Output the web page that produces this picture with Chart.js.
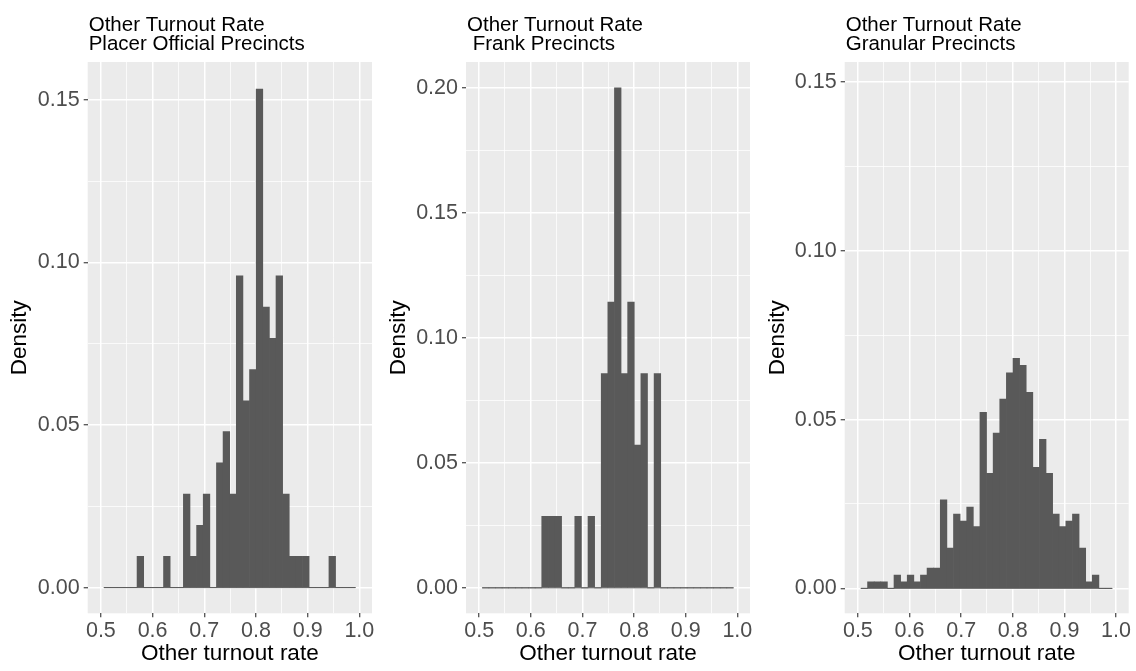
<!DOCTYPE html>
<html><head><meta charset="utf-8">
<script src="https://cdn.jsdelivr.net/npm/chart.js@4.4.1/dist/chart.umd.min.js"></script>
<style>
html,body{margin:0;padding:0;background:#fff;}
#wrap{position:relative;width:1136px;height:671px;overflow:hidden;background:#fff}
canvas{position:absolute;top:0}
</style></head><body>
<div id="wrap">
<canvas id="c1" width="379" height="671" style="left:0px"></canvas>
<canvas id="c2" width="379" height="671" style="left:379px"></canvas>
<canvas id="c3" width="378" height="671" style="left:758px"></canvas>
</div>
<script>
// Histogram bin centers (other turnout rate)
const binCenters = [0.5124,0.5252,0.5380,0.5508,0.5636,0.5764,0.5892,0.6020,0.6148,0.6276,
  0.6404,0.6532,0.6660,0.6788,0.6916,0.7044,0.7172,0.7300,0.7428,0.7556,
  0.7684,0.7812,0.7940,0.8068,0.8196,0.8324,0.8452,0.8580,0.8708,0.8836,
  0.8964,0.9092,0.9220,0.9348,0.9476,0.9604,0.9732,0.9860];

const placerDensity = [0,0,0,0,0,0.0096,0,0,0,0.0096,
  0,0,0.0288,0.0096,0.0192,0.0288,0,0.0384,0.0480,0.0288,
  0.0959,0.0575,0.0671,0.1534,0.0863,0.0767,0.0959,0.0288,0.0096,0.0096,
  0.0096,0,0,0,0.0096,0,0,0];

const frankDensity = [0,0,0,0,0,0,0,0,0,0.0286,
  0.0286,0.0286,0,0,0.0286,0,0.0286,0,0.0857,0.1143,
  0.2000,0.0857,0.1143,0.0571,0.0857,0,0.0857,0,0,0,
  0,0,0,0,0,0,0,0];

const granularDensity = [0,0.0019,0.0019,0.0019,0,0.0039,0.0019,0.0039,0.0019,0.0039,
  0.0060,0.0060,0.0262,0.0119,0.0220,0.0199,0.0241,0.0183,0.0522,0.0341,
  0.0460,0.0561,0.0639,0.0682,0.0661,0.0581,0.0359,0.0442,0.0341,0.0220,
  0.0183,0.0199,0.0220,0.0119,0.0019,0.0039,0,0];

const xTicks = [0.5,0.55,0.6,0.65,0.7,0.75,0.8,0.85,0.9,0.95,1.0];
const yTicksPlacer = [0,0.025,0.05,0.075,0.1,0.125,0.15];
const yTicksFrank = [0,0.025,0.05,0.075,0.1,0.125,0.15,0.175,0.2];
const yTicksGranular = [0,0.025,0.05,0.075,0.1,0.125,0.15];

const titlePlacer = ["Other Turnout Rate","Placer Official Precincts"];
const titleFrank = ["Other Turnout Rate"," Frank Precincts"];
const titleGranular = ["Other Turnout Rate","Granular Precincts"];

const FONT = "'Liberation Sans', Arial, Helvetica, sans-serif";
Chart.defaults.font.family = FONT;

const isMajorX = v => Math.abs(v*10 - Math.round(v*10)) < 1e-6;
const isMajorY = v => Math.abs(v*20 - Math.round(v*20)) < 1e-6;

const panelPlugin = {
  id: 'panel',
  beforeDraw(chart) {
    const {ctx, chartArea: a} = chart;
    ctx.save();
    ctx.fillStyle = '#EBEBEB';
    ctx.fillRect(a.left, a.top, a.right - a.left, a.bottom - a.top);
    ctx.restore();
  },
  afterDraw(chart, args, opts) {
    const {ctx, chartArea: a} = chart;
    ctx.save();
    ctx.fillStyle = '#000';
    ctx.font = '20.5px ' + FONT;
    ctx.textBaseline = 'alphabetic';
    ctx.textAlign = 'left';
    ctx.fillText(opts.title[0], a.left + 1, 30.7);
    ctx.fillText(opts.title[1], a.left + 1, 50);
    ctx.restore();
  }
};

function makeChart(id, values, yMin, yMax, yTicks, title, axisWidth, padRight) {
  const half = (binCenters[1] - binCenters[0]) / 2;
  new Chart(document.getElementById(id), {
    type: 'bar',
    data: {
      datasets: [
        {type: 'line', data: [{x: binCenters[0] - half, y: 0}, {x: binCenters[binCenters.length-1] + half, y: 0}],
         borderColor: '#595959', borderWidth: 1, pointRadius: 0, order: 2},
        {type: 'bar', data: binCenters.map((x, i) => ({x: x, y: values[i]})),
         backgroundColor: '#595959', borderWidth: 0, barPercentage: 1, categoryPercentage: 1, order: 1}
      ]
    },
    options: {
      responsive: false, animation: false, events: [],
      layout: {padding: {left: 0, right: padRight, top: 62, bottom: 0}},
      plugins: {legend: {display: false}, tooltip: {enabled: false}, title: {display: false}, panel: {title: title}},
      scales: {
        x: {
          type: 'linear', min: 0.4745, max: 1.0245, offset: false,
          afterBuildTicks: s => { s.ticks = xTicks.map(v => ({value: v})); },
          afterFit: s => { s.height = 57.7; },
          ticks: {autoSkip: false, maxRotation: 0, minRotation: 0, padding: 1, color: '#4D4D4D', font: {size: 21.5},
                  callback: v => isMajorX(v) ? v.toFixed(1) : ''},
          grid: {offset: false, color: '#FFFFFF', lineWidth: c => isMajorX(c.tick.value) ? 1.5 : 0.75,
                 tickColor: c => isMajorX(c.tick.value) ? '#333333' : 'rgba(0,0,0,0)', tickLength: 4, tickWidth: 1.1},
          border: {display: false},
          title: {display: true, text: 'Other turnout rate', color: '#000', font: {size: 22.5}, padding: {top: 0, bottom: 4}}
        },
        y: {
          type: 'linear', min: yMin, max: yMax,
          afterBuildTicks: s => { s.ticks = yTicks.map(v => ({value: v})); },
          afterFit: s => { s.width = axisWidth; },
          ticks: {autoSkip: false, padding: 4, color: '#4D4D4D', font: {size: 21.5},
                  callback: v => isMajorY(v) ? v.toFixed(2) : ''},
          grid: {color: '#FFFFFF', lineWidth: c => isMajorY(c.tick.value) ? 1.5 : 0.75,
                 tickColor: c => isMajorY(c.tick.value) ? '#333333' : 'rgba(0,0,0,0)', tickLength: 4, tickWidth: 1.1},
          border: {display: false},
          title: {display: true, text: 'Density', color: '#000', font: {size: 22.5}, padding: {top: 6.3, bottom: 0}}
        }
      }
    },
    plugins: [panelPlugin]
  });
}

makeChart('c1', placerDensity, -0.0079, 0.1617, yTicksPlacer, titlePlacer, 87.7, 7);
makeChart('c2', frankDensity, -0.0102, 0.2103, yTicksFrank, titleFrank, 87, 8);
makeChart('c3', granularDensity, -0.0074, 0.156, yTicksGranular, titleGranular, 86.7, 7.3);
</script>
</body></html>
